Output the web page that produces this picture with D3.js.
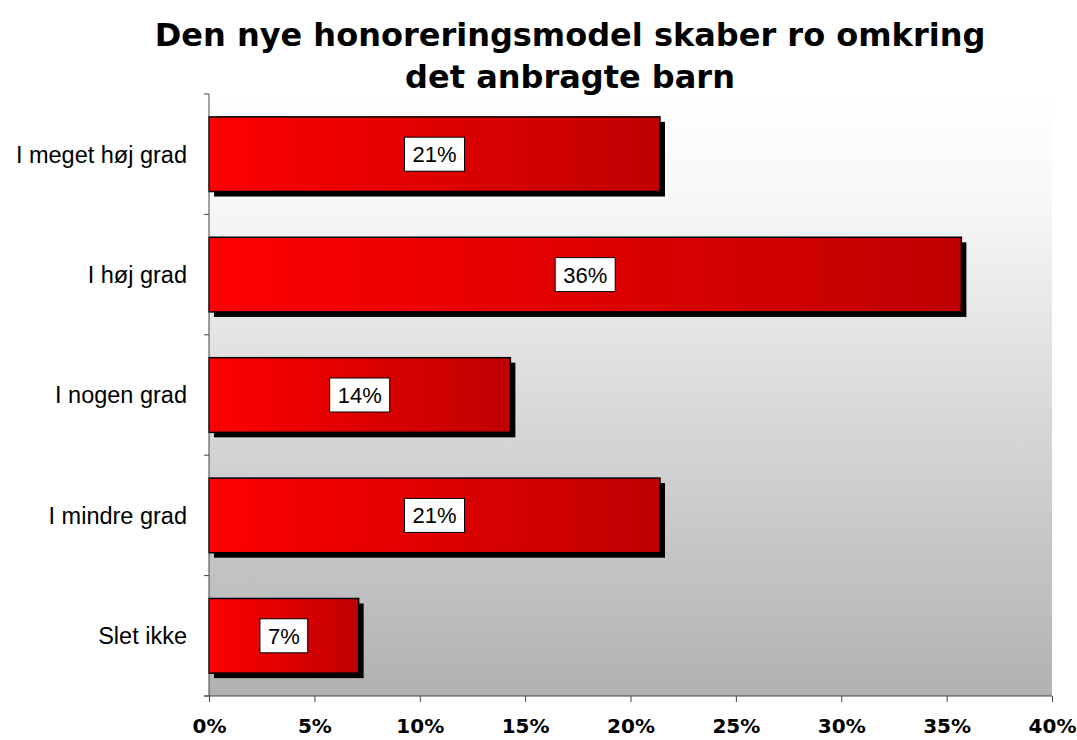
<!DOCTYPE html>
<html><head><meta charset="utf-8">
<script src="https://cdn.jsdelivr.net/npm/d3@7"></script>
<style>html,body{margin:0;padding:0;background:#fff;}svg{display:block;}</style>
</head><body>
<script>
const titleLines = ["Den nye honoreringsmodel skaber ro omkring", "det anbragte barn"];
const categories = ["I meget høj grad", "I høj grad", "I nogen grad", "I mindre grad", "Slet ikke"];
const values = [0.214, 0.357, 0.143, 0.214, 0.071];
const valueLabels = ["21%", "36%", "14%", "21%", "7%"];
const xTicks = [0, 0.05, 0.10, 0.15, 0.20, 0.25, 0.30, 0.35, 0.40];

const W = 1077, H = 740;
const m = {left: 209, right: W - 1052, top: 94, bottom: H - 696};
const svg = d3.select("body").append("svg").attr("width", W).attr("height", H);
const defs = svg.append("defs");

const bg = defs.append("linearGradient").attr("id","bg").attr("x1",0).attr("y1",0).attr("x2",0).attr("y2",1);
[["0%","#ffffff"],["18%","#f7f7f7"],["50%","#dbdbdb"],["100%","#b1b1b1"]].forEach(s =>
  bg.append("stop").attr("offset",s[0]).attr("stop-color",s[1]));

const bar = defs.append("linearGradient").attr("id","bar").attr("x1",0).attr("y1",0).attr("x2",1).attr("y2",0);
bar.append("stop").attr("offset","0%").attr("stop-color","#ff0000");
bar.append("stop").attr("offset","100%").attr("stop-color","#bf0000");

const x = d3.scaleLinear().domain([0, 0.40]).range([m.left, W - m.right]);
const y = d3.scaleBand().domain(categories).range([m.top, H - m.bottom]).paddingInner(0.38).paddingOuter(0.19);

// plot background
svg.append("rect").attr("x", x(0)).attr("y", m.top).attr("width", x(0.40) - x(0)).attr("height", H - m.bottom - m.top).attr("fill","url(#bg)");

// title
svg.append("g").selectAll("text").data(titleLines).join("text")
  .attr("x", 570).attr("y", (d,i) => 46 + i*42)
  .attr("text-anchor","middle")
  .attr("font-family","'DejaVu Sans', Verdana, sans-serif").attr("font-weight","bold")
  .attr("font-size", 32).attr("fill","#000")
  .text(d => d);

const data = categories.map((c,i) => ({c, v: values[i], l: valueLabels[i]}));

// shadows
svg.append("g").selectAll("rect").data(data).join("rect")
  .attr("x", x(0) + 5).attr("y", d => y(d.c) + 5)
  .attr("width", d => x(d.v) - x(0)).attr("height", y.bandwidth())
  .attr("fill", "#000");

// bars
svg.append("g").selectAll("rect").data(data).join("rect")
  .attr("x", x(0)).attr("y", d => y(d.c))
  .attr("width", d => x(d.v) - x(0)).attr("height", y.bandwidth())
  .attr("fill", "url(#bar)").attr("stroke","#000").attr("stroke-width",1.5);

// value labels
const lg = svg.append("g").selectAll("g").data(data).join("g")
  .attr("transform", d => `translate(${(x(0)+x(d.v))/2},${y(d.c)+y.bandwidth()/2})`);
lg.append("text").attr("class","vl")
  .attr("text-anchor","middle").attr("dy","0.36em")
  .attr("font-family","'Liberation Sans', Arial, sans-serif").attr("font-size",22).attr("fill","#000")
  .text(d => d.l);
lg.each(function(){
  const g = d3.select(this);
  const b = g.select("text").node().getBBox();
  g.insert("rect","text").attr("x", b.x - 8).attr("y", -17).attr("width", b.width + 16).attr("height", 34)
    .attr("fill","#fff").attr("stroke","#000").attr("stroke-width",1);
});

// y axis
const yAxis = svg.append("g").attr("transform", `translate(${x(0)},0)`);
yAxis.append("line").attr("x1",0).attr("x2",0).attr("y1",m.top).attr("y2",H-m.bottom).attr("stroke","#444").attr("stroke-width",1);
const boundaries = [m.top, ...categories.map(c => y(c) + y.bandwidth() + y.step()*y.paddingInner()/2)];
boundaries[boundaries.length-1] = H - m.bottom;
yAxis.selectAll("line.t").data(boundaries).join("line").attr("class","t")
  .attr("x1",-5).attr("x2",0).attr("y1",d=>d).attr("y2",d=>d).attr("stroke","#444");
yAxis.selectAll("text").data(categories).join("text")
  .attr("x",-22).attr("y", d => y(d) + y.bandwidth()/2).attr("dy","0.36em")
  .attr("text-anchor","end")
  .attr("font-family","'Liberation Sans', Arial, sans-serif").attr("font-size",23.5).attr("fill","#000")
  .text(d => d);

// x axis
const xAxis = svg.append("g").attr("transform", `translate(0,${H - m.bottom})`)
  .call(d3.axisBottom(x).tickValues(xTicks).tickFormat(d3.format(".0%")).tickSize(6).tickPadding(17));
xAxis.select(".domain").attr("stroke","#444").attr("d", `M${x(0)-5},0H${x(0.40)}`);
xAxis.selectAll(".tick line").attr("stroke","#444");
xAxis.selectAll(".tick text").attr("font-family","'DejaVu Sans', Verdana, sans-serif").attr("font-weight","bold")
  .attr("font-size",20).attr("fill","#000");
</script>
</body></html>
